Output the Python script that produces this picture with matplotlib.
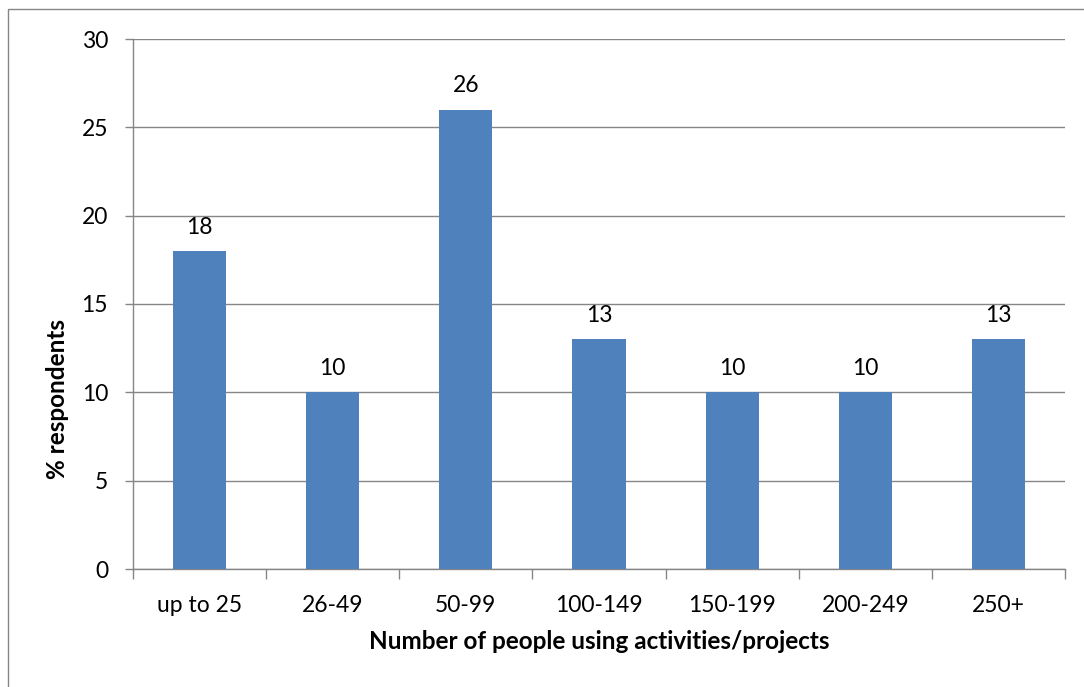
import matplotlib
matplotlib.use('Agg')
import matplotlib.pyplot as plt
import numpy as np

categories = ['up to 25', '26-49', '50-99', '100-149', '150-199', '200-249', '250+']
percent = [18, 10, 26, 13, 10, 10, 13]
y_ticks = [0, 5, 10, 15, 20, 25, 30]

plt.rcParams['font.family'] = ['Lato', 'DejaVu Sans']
grey = '#868686'

fig = plt.figure(figsize=(10.84, 6.87), dpi=100)
ax = fig.add_axes([133 / 1084, 1 - 569 / 687, 932 / 1084, 530 / 687])

x = np.arange(len(categories))
bars = ax.bar(x, percent, width=0.4, color='#4F81BD', zorder=3)
for xi, v in zip(x, percent):
    ax.text(xi, v + 0.75, str(v), ha='center', va='bottom', fontsize=16.5)

ax.set_xlim(-0.5, len(categories) - 0.5)
ax.set_ylim(0, 30)
ax.set_yticks(y_ticks)
ax.yaxis.grid(True, color=grey, linewidth=1)
ax.set_axisbelow(True)

# category labels centred, tick marks at the boundaries
ax.set_xticks(x)
ax.set_xticklabels(categories, fontsize=16.5)
ax.tick_params(axis='x', which='major', length=0, pad=19)
ax.set_xticks(np.arange(-0.5, len(categories)), minor=True)
ax.tick_params(axis='x', which='minor', length=7, color=grey, width=1)
ax.tick_params(axis='y', length=6, color=grey, width=1, labelsize=16.5, pad=12)

for side in ['top', 'right']:
    ax.spines[side].set_visible(False)
for side in ['left', 'bottom']:
    ax.spines[side].set_color(grey)
    ax.spines[side].set_linewidth(1)

# y label sits below the middle of the axis
ax.set_ylabel('% respondents', fontsize=17.5, fontweight='bold', labelpad=9, y=0.32)
ax.set_xlabel('Number of people using activities/projects', fontsize=17.5,
              fontweight='bold', labelpad=10)

# outer chart frame
fig.add_artist(plt.Rectangle((8 / 1084, -0.1), 1.2, 1 - 9 / 687 + 0.1,
                             transform=fig.transFigure, fill=False,
                             edgecolor=grey, linewidth=1))

fig.savefig('out.png', dpi=100)
